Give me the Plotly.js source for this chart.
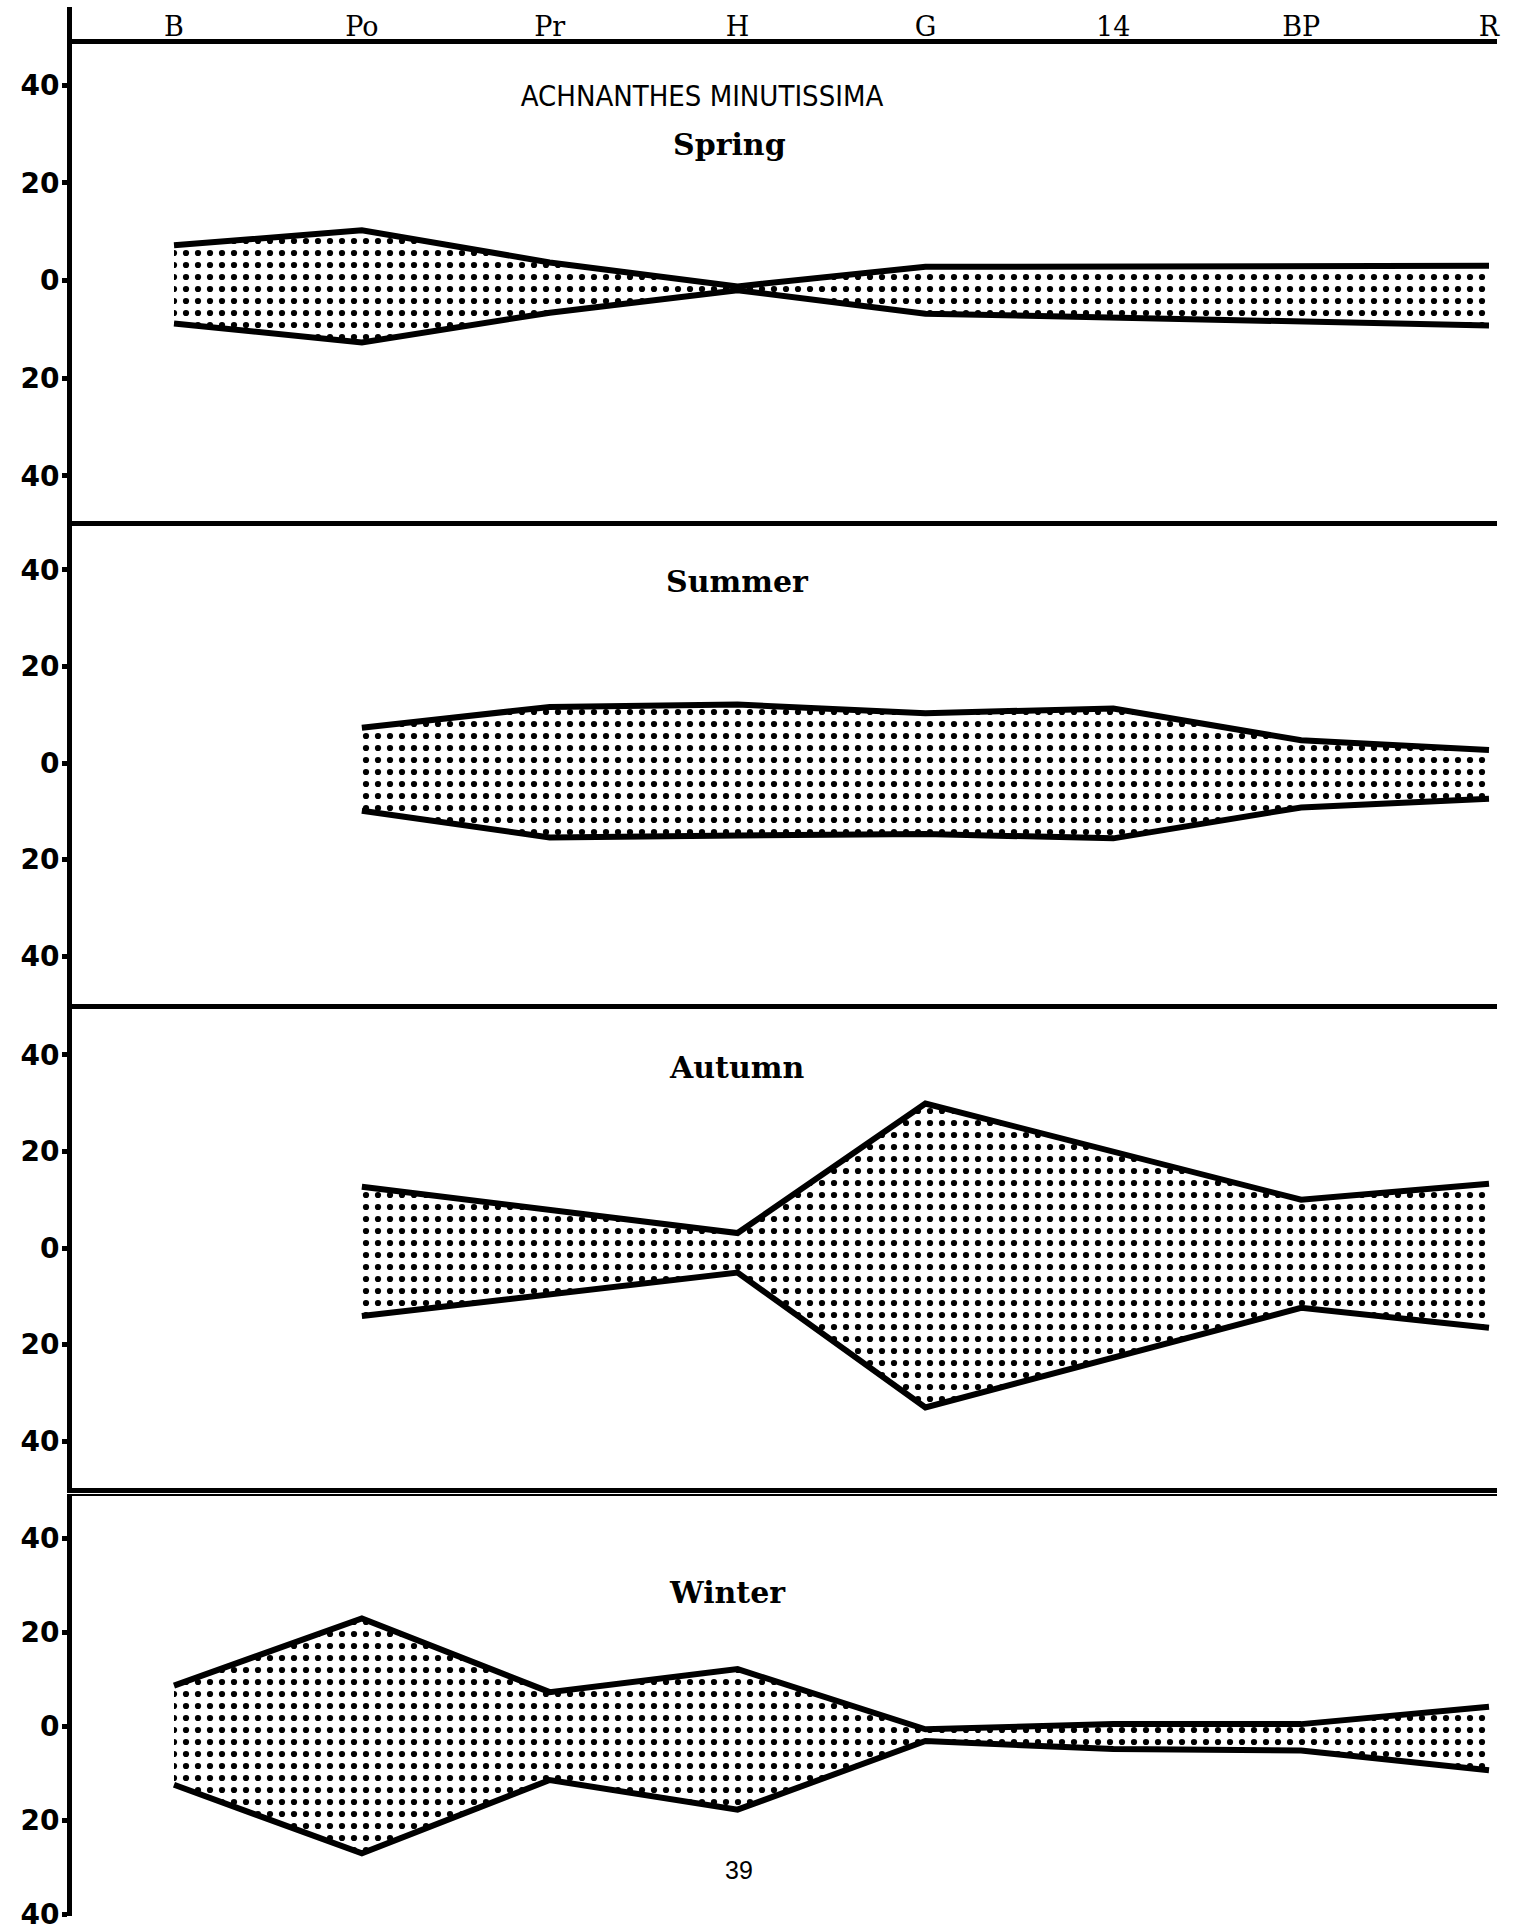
<!DOCTYPE html>
<html><head><meta charset="utf-8">
<script src="https://cdn.plot.ly/plotly-3.0.1.min.js"></script>
<style>html,body{margin:0;padding:0;background:#fff}#chart{width:1513px;height:1932px}</style>
</head><body><div id="chart"></div>
<script>
// ---- data ----
const stations = ['B', 'Po', 'Pr', 'H', 'G', '14', 'BP', 'R'];
const seasons = ['Spring', 'Summer', 'Autumn', 'Winter'];
const springTop    = [7.2, 10.3, 3.7, -1.2, 2.8, 2.8, 2.8, 3.0];
const springBottom = [-8.8, -12.7, -6.6, -2.0, -6.8, -7.7, -8.4, -9.2];
const summerTop    = [null, 7.3, 11.6, 12.1, 10.3, 11.3, 4.7, 2.7];
const summerBottom = [null, -9.9, -15.4, -15.0, -14.7, -15.6, -9.2, -7.4];
const autumnTop    = [null, 12.7, null, 3.1, 29.9, null, 10.0, 13.3];
const autumnBottom = [null, -14.1, null, -5.1, -33.0, null, -12.4, -16.5];
const winterTop    = [8.6, 22.9, 7.2, 12.1, -0.7, 0.4, 0.4, 4.1];
const winterBottom = [-12.5, -27.1, -11.5, -17.8, -3.2, -4.9, -5.2, -9.4];
const tickVals = [-40, -20, 0, 20, 40];
const tickText = ['40', '20', '0', '20', '40'];
const chartTitle = 'ACHNANTHES MINUTISSIMA';
const pageNumber = '39';

// ---- layout geometry (pixels) ----
const W = 1513, H = 1932, ML = 72, MR = 16;
const plotW = W - ML - MR;
const firstPx = 174, lastPx = 1489;
const step = (lastPx - firstPx) / (stations.length - 1);
const xRange = [-(firstPx - ML) / step, (stations.length - 1) + (W - MR - lastPx) / step];
const panels = [
  {top: 7, bottom: 525, zero: 280.5, ppu: 4.88, lineAt: 41, lineW: 5},
  {top: 526, bottom: 1008, zero: 763, ppu: 4.83, lineW: 5},
  {top: 1009, bottom: 1488, zero: 1248, ppu: 4.83, mirror: true, lineW: 5},
  {top: 1496, bottom: 1916, zero: 1726, ppu: 4.7, lineW: 2}
];
const px2x = p => (p - ML) / plotW;
const px2y = p => 1 - p / H;

const series = [[springTop, springBottom], [summerTop, summerBottom], [autumnTop, autumnBottom], [winterTop, winterBottom]];
const traces = [];
series.forEach(([top, bottom], k) => {
  const xa = k === 0 ? 'x' : 'x' + (k + 1);
  const ya = k === 0 ? 'y' : 'y' + (k + 1);
  const xs = [], ts = [], bs = [];
  stations.forEach((s, i) => { if (top[i] !== null) { xs.push(s); ts.push(top[i]); bs.push(bottom[i]); } });
  traces.push({
    type: 'scatter', mode: 'lines', xaxis: xa, yaxis: ya, showlegend: false, hoverinfo: 'skip',
    x: xs.concat(xs.slice().reverse()), y: ts.concat(bs.slice().reverse()),
    fill: 'toself', fillcolor: 'white', line: {width: 0, color: 'black'},
    fillpattern: {shape: '.', bgcolor: 'white', fgcolor: 'black', size: 12, solidity: 0.21}
  });
  [ts, bs].forEach(v => traces.push({
    type: 'scatter', mode: 'lines', xaxis: xa, yaxis: ya, showlegend: false, hoverinfo: 'skip',
    x: xs, y: v, line: {color: 'black', width: 6}
  }));
});

const layout = {
  width: W, height: H, margin: {l: ML, r: MR, t: 0, b: 0},
  paper_bgcolor: 'white', plot_bgcolor: 'rgba(0,0,0,0)', showlegend: false,
  title: {text: chartTitle, x: px2x(702), y: px2y(96), xref: 'paper', yref: 'paper',
          xanchor: 'center', yanchor: 'middle',
          font: {family: 'Liberation Sans Narrow, DejaVu Sans Condensed, Liberation Sans', size: 29, color: 'black'}},
  annotations: []
};
panels.forEach((p, k) => {
  const sfx = k === 0 ? '' : String(k + 1);
  const yName = 'y' + sfx;
  const x = {
    type: 'category', categoryorder: 'array', categoryarray: stations, range: xRange, domain: [0, 1],
    anchor: yName, side: 'top', showline: true, linewidth: p.lineW, linecolor: 'black', mirror: !!p.mirror,
    showgrid: false, zeroline: false, ticks: '', showticklabels: false, fixedrange: true
  };
  if (k === 0) {
    Object.assign(x, {anchor: 'free', position: px2y(p.lineAt), showticklabels: true,
      ticklabelstandoff: -8,
      tickfont: {family: 'DejaVu Serif, Liberation Serif, serif', size: 27, color: 'black'}});
  }
  layout['xaxis' + sfx] = x;
  layout['yaxis' + sfx] = {
    domain: [px2y(p.bottom), px2y(p.top)],
    range: [-(p.bottom - p.zero) / p.ppu, (p.zero - p.top) / p.ppu],
    anchor: k === 0 ? 'x' : 'x' + (k + 1),
    tickvals: tickVals, ticktext: tickText, ticks: 'outside', ticklen: 5, tickwidth: 5, tickcolor: 'black',
    showline: true, linewidth: 5, linecolor: 'black', showgrid: false, zeroline: false, fixedrange: true,
    ticklabelstandoff: -3, ticklabeloverflow: 'allow',
    tickfont: {family: 'DejaVu Sans, sans-serif', size: 28, color: 'black', weight: 'bold'}
  };
});
const seasonPos = [[729, 145], [737, 581], [737, 1067], [727, 1592]];
seasons.forEach((s, k) => layout.annotations.push({
  text: s, xref: 'paper', yref: 'paper', x: px2x(seasonPos[k][0]), y: px2y(seasonPos[k][1]),
  xanchor: 'center', yanchor: 'middle', showarrow: false,
  font: {family: 'DejaVu Serif, Liberation Serif, serif', size: 30, color: 'black', weight: 'bold'}
}));
layout.annotations.push({
  text: pageNumber, xref: 'paper', yref: 'paper', x: px2x(739), y: px2y(1870),
  xanchor: 'center', yanchor: 'middle', showarrow: false,
  font: {family: 'Liberation Sans Narrow, Liberation Sans, sans-serif', size: 25, color: 'black'}
});

Plotly.newPlot('chart', traces, layout, {displayModeBar: false, staticPlot: true});
</script>
</body></html>
